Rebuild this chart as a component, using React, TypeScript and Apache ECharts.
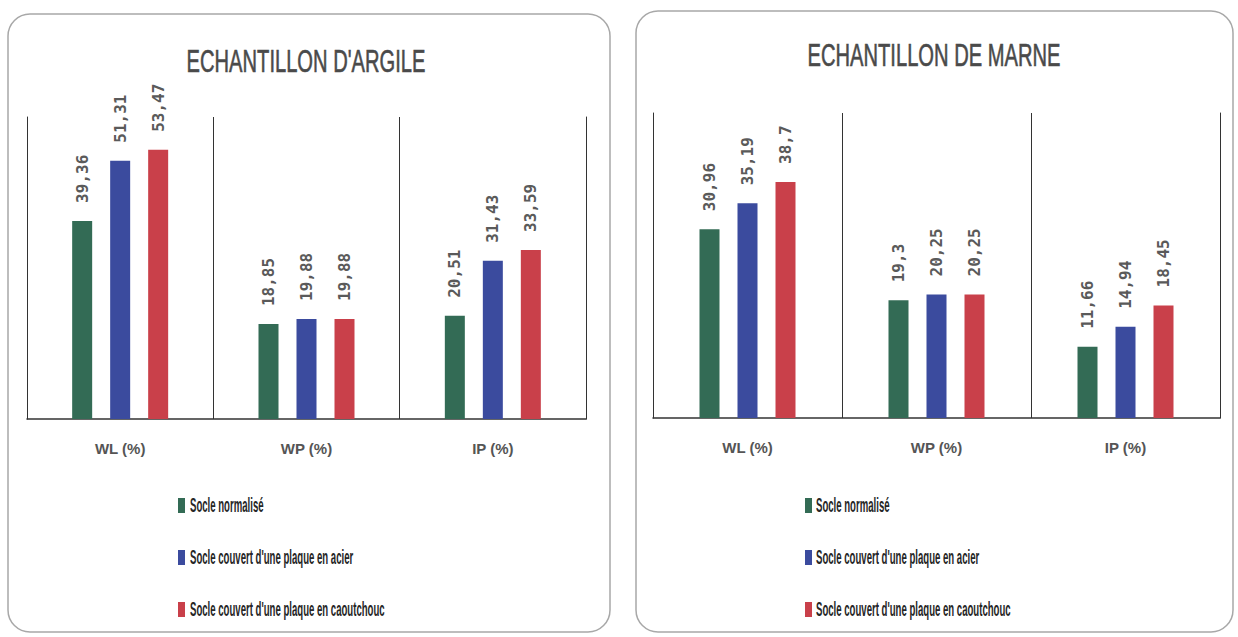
import React, { useEffect, useRef } from "react";
import * as echarts from "echarts";

// Test parameters on the x axis
const categories = ["WL (%)", "WP (%)", "IP (%)"];

// Base configurations compared
const seriesNames = [
  "Socle normalisé",
  "Socle couvert d'une plaque en acier",
  "Socle couvert d'une plaque en caoutchouc",
];
const seriesColors = ["#336b55", "#3b4b9e", "#c9404a"];

// Clay sample
const argileNormalise = [39.36, 18.85, 20.51];
const argileAcier = [51.31, 19.88, 31.43];
const argileCaoutchouc = [53.47, 19.88, 33.59];

// Marl sample
const marneNormalise = [30.96, 19.3, 11.66];
const marneAcier = [35.19, 20.25, 14.94];
const marneCaoutchouc = [38.7, 20.25, 18.45];

const panelTitles = ["ECHANTILLON D'ARGILE", "ECHANTILLON DE MARNE"];
const axisMax = [60, 50];

const sans = "'Liberation Sans', Arial, sans-serif";

export default function App() {
  const ref = useRef<HTMLDivElement>(null);

  useEffect(() => {
    if (!ref.current) return;
    const chart = echarts.init(ref.current, undefined, { renderer: "svg" });

    const grids = [
      { left: 27, top: 117, width: 559, height: 302 },
      { left: 653, top: 113, width: 567, height: 305 },
    ];
    const data = [
      [argileNormalise, argileAcier, argileCaoutchouc],
      [marneNormalise, marneAcier, marneCaoutchouc],
    ];

    const xAxis = grids.map((_, i) => ({
      type: "category",
      gridIndex: i,
      data: categories,
      axisLine: { show: true, lineStyle: { color: "#333", width: 1.5 } },
      axisTick: { show: false },
      axisLabel: {
        margin: 22,
        color: "#555",
        fontFamily: sans,
        fontWeight: "bold",
        fontSize: 15,
      },
      splitLine: { show: true, interval: 0, lineStyle: { color: "#333", width: 1 } },
    }));

    const yAxis: any[] = [];
    grids.forEach((_, i) => {
      ["left", "right"].forEach((position) => {
        yAxis.push({
          type: "value",
          gridIndex: i,
          position,
          min: 0,
          max: axisMax[i],
          axisLine: { show: true, lineStyle: { color: "#333", width: 1 } },
          axisTick: { show: false },
          axisLabel: { show: false },
          splitLine: { show: false },
        });
      });
    });

    const series: any[] = [];
    data.forEach((panel, i) => {
      panel.forEach((values, s) => {
        series.push({
          type: "bar",
          name: seriesNames[s],
          xAxisIndex: i,
          yAxisIndex: i * 2,
          data: values,
          barWidth: 20,
          barGap: "90%",
          itemStyle: { color: seriesColors[s] },
          label: {
            show: true,
            position: "top",
            rotate: 90,
            align: "left",
            verticalAlign: "middle",
            distance: 18,
            color: "#5a5a5a",
            fontFamily: "'DejaVu Sans Mono', monospace",
            fontWeight: "bold",
            fontSize: 16,
            formatter: (p: any) => String(p.value).replace(".", ","),
          },
        });
      });
    });

    // Panel frames, condensed titles and the legend of each panel
    const titlePos = [
      { x: 306, y: 61 },
      { x: 934, y: 55 },
    ];
    const legendPos = [
      { icon: 178, text: 190 },
      { icon: 805, text: 816 },
    ];
    const legendRows = [505, 557, 609];

    const graphic: any[] = [
      {
        type: "rect",
        shape: { x: 8, y: 14, width: 602, height: 618, r: 22 },
        style: { fill: "none", stroke: "#a8a8a8", lineWidth: 1.5 },
        silent: true,
      },
      {
        type: "rect",
        shape: { x: 636, y: 11, width: 597, height: 621, r: 22 },
        style: { fill: "none", stroke: "#a8a8a8", lineWidth: 1.5 },
        silent: true,
      },
    ];
    panelTitles.forEach((t, i) => {
      graphic.push({
        type: "text",
        x: titlePos[i].x,
        y: titlePos[i].y,
        scaleX: 0.65,
        silent: true,
        style: {
          text: t,
          font: `normal 31px ${sans}`,
          fill: "#4a4a4a",
          stroke: "#4a4a4a",
          lineWidth: 0.6,
          align: "center",
          verticalAlign: "middle",
        },
      });
    });
    legendPos.forEach((lp) => {
      seriesNames.forEach((name, s) => {
        graphic.push({
          type: "rect",
          shape: { x: lp.icon, y: legendRows[s] - 7, width: 7, height: 15 },
          style: { fill: seriesColors[s] },
          silent: true,
        });
        graphic.push({
          type: "text",
          x: lp.text,
          y: legendRows[s],
          scaleX: 0.48,
          silent: true,
          style: {
            text: name,
            font: `bold 20px ${sans}`,
            fill: "#262626",
            align: "left",
            verticalAlign: "middle",
          },
        });
      });
    });

    chart.setOption({
      animation: false,
      backgroundColor: "#ffffff",
      graphic,
      grid: grids,
      xAxis,
      yAxis,
      series,
    });

    return () => chart.dispose();
  }, []);

  return (
    <div
      ref={ref}
      style={{ position: "fixed", left: 0, top: 0, width: 1238, height: 637, background: "#fff" }}
    />
  );
}
